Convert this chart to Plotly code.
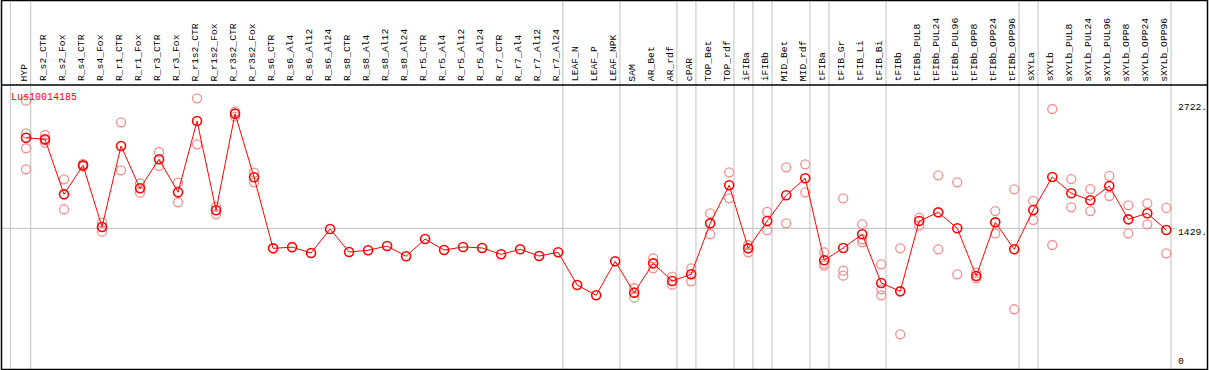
import plotly.graph_objects as go

categories = ["HYP", "R_s2_CTR", "R_s2_Fox", "R_s4_CTR", "R_s4_Fox", "R_r1_CTR", "R_r1_Fox",
              "R_r3_CTR", "R_r3_Fox", "R_r1s2_CTR", "R_r1s2_Fox", "R_r3s2_CTR", "R_r3s2_Fox",
              "R_s6_CTR", "R_s6_Al4", "R_s6_Al12", "R_s6_Al24", "R_s8_CTR", "R_s8_Al4", "R_s8_Al12",
              "R_s8_Al24", "R_r5_CTR", "R_r5_Al4", "R_r5_Al12", "R_r5_Al24", "R_r7_CTR", "R_r7_Al4",
              "R_r7_Al12", "R_r7_Al24", "LEAF_N", "LEAF_P", "LEAF_NPK", "SAM", "AR_Bet", "AR_rdf",
              "cPAR", "TOP_Bet", "TOP_rdf", "iFIBa", "iFIBb", "MID_Bet", "MID_rdf", "tFIBa",
              "tFIB_Gr", "tFIB_Li", "tFIB_Bi", "tFIBb", "tFIBb_PUL8", "tFIBb_PUL24", "tFIBb_PUL96",
              "tFIBb_OPP8", "tFIBb_OPP24", "tFIBb_OPP96", "sXYLa", "sXYLb", "sXYLb_PUL8",
              "sXYLb_PUL24", "sXYLb_PUL96", "sXYLb_OPP8", "sXYLb_OPP24", "sXYLb_OPP96"]

mean_values = [2400, 2383, 1793, 2104, 1443, 2311, 1858, 2169, 1815, 2579, 1622, 2658, 1976,
               1214, 1227, 1164, 1421, 1175, 1193, 1239, 1129, 1314, 1196, 1229, 1218, 1150, 1204,
               1132, 1172, 821, 711, 1075, 739, 1053, 864, 936, 1482, 1890, 1214, 1507, 1783, 1965,
               1086, 1218, 1365, 843, 753, 1507, 1600, 1429, 918, 1493, 1204, 1625, 1979, 1804,
               1729, 1882, 1525, 1590, 1411]

replicates = [
    [2797, 2447, 2287, 2061], [2429, 2347, 2373], [1954, 1633], [2120, 2090], [1489, 1393],
    [2565, 2051], [1911, 1811], [2247, 2097], [1918, 1708], [2822, 2329], [1661, 1579],
    [2679, 2626], [2025, 1922],
    [], [], [], [], [], [], [], [], [], [], [], [], [], [], [], [], [], [], [],
    [789, 685], [1107, 1000], [910, 824], [1000, 861], [1590, 1365], [2029, 1750],
    [1250, 1172], [1604, 1407], [2083, 1482], [2115, 1815], [1172, 1050, 1028],
    [1750, 975, 921], [1472, 1311, 1279], [1043, 775, 711], [1214, 292], [1543, 1457],
    [1997, 1204], [1922, 936], [953, 893], [1614, 1375], [1847, 561], [1722, 1518],
    [2708, 1250], [1957, 1654], [1850, 1614], [1990, 1775], [1675, 1375], [1697, 1472],
    [1647, 1161],
]

group_ends = [0, 28, 31, 34, 35, 37, 38, 39, 41, 42, 45, 52, 53, 60]
gene_name = "Lus10014185"
axis_ticks = [2722, 1429, 0]
axis_ticktext = ["2722.", "1429.", "0"]
grid_value = 1429

W, H = 1209, 370
X0PX, DX = 26.0, 19.005
Y0PX, DY = 361.6, 10.72  # pixel of value 0, value per pixel

xr = [-X0PX / DX, (W - X0PX) / DX]
yr = [(Y0PX - H) * DY, Y0PX * DY]

def py(p):
    return 1 - p / H

def px(p):
    return p / W

idx = list(range(len(categories)))

rx, ry = [], []
for i, reps in enumerate(replicates):
    for v in reps:
        rx.append(i)
        ry.append(v)

MONO = "Liberation Mono, DejaVu Sans Mono, monospace"

fig = go.Figure()
fig.add_trace(go.Scatter(x=rx, y=ry, mode="markers",
                         marker=dict(symbol="circle-open", size=9, color="#f09090",
                                     line=dict(width=1.3, color="#f09090")),
                         hoverinfo="skip", showlegend=False))
fig.add_trace(go.Scatter(x=idx, y=mean_values, mode="lines+markers",
                         line=dict(color="#ff0000", width=1),
                         marker=dict(symbol="circle-open", size=9, color="#ff0000",
                                     line=dict(width=1.6, color="#ff0000")),
                         showlegend=False))

shapes = []
for g in group_ends:
    shapes.append(dict(type="line", xref="x", yref="paper", x0=g + 0.25, x1=g + 0.25, y0=0, y1=1,
                       line=dict(color="#c0c0c0", width=1), layer="below"))
shapes.append(dict(type="line", xref="x", yref="paper", x0=-0.826, x1=-0.826, y0=0, y1=1,
                   line=dict(color="#c0c0c0", width=1), layer="below"))
shapes.append(dict(type="line", xref="paper", yref="y", x0=0, x1=px(1177), y0=grid_value, y1=grid_value,
                   line=dict(color="#c0c0c0", width=1), layer="below"))
shapes.append(dict(type="rect", xref="paper", yref="paper", x0=px(1.5), x1=px(1207.5), y0=py(369.5), y1=py(0.5),
                   line=dict(color="black", width=1.5)))
shapes.append(dict(type="line", xref="paper", yref="paper", x0=px(1.5), x1=px(1207.5), y0=py(85), y1=py(85),
                   line=dict(color="black", width=1.5)))

annotations = []
for i, c in enumerate(categories):
    annotations.append(dict(x=i, y=py(83.5), xref="x", yref="paper", text=c, showarrow=False,
                            textangle=-90, xanchor="center", yanchor="bottom", xshift=-2,
                            font=dict(family=MONO, size=9.7, color="black")))
annotations.append(dict(x=px(9), y=py(97), xref="paper", yref="paper", text=gene_name, showarrow=False,
                        xanchor="left", yanchor="middle",
                        font=dict(family=MONO, size=10, color="#ff0000")))
for v, t in zip(axis_ticks, axis_ticktext):
    annotations.append(dict(x=px(1176), y=v, xref="paper", yref="y", text=t, showarrow=False,
                            xanchor="left", yanchor="middle", yshift=-4 if v == grid_value else 0,
                            font=dict(family=MONO, size=9.7, color="black")))

fig.update_layout(width=W, height=H, margin=dict(l=0, r=0, t=0, b=0),
                  paper_bgcolor="white", plot_bgcolor="white",
                  xaxis=dict(range=xr, visible=False, fixedrange=True),
                  yaxis=dict(range=yr, visible=False, fixedrange=True),
                  shapes=shapes, annotations=annotations)

fig.write_html("out.html", config={"displayModeBar": False},
               post_script="document.body.style.margin='0';document.body.style.padding='0';")
